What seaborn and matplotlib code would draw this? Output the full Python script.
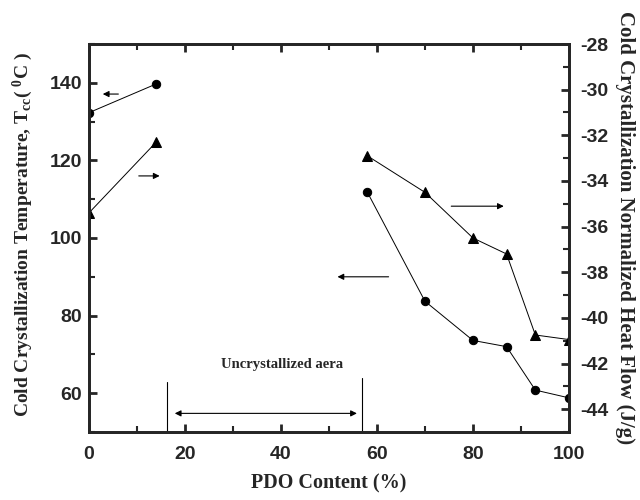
import numpy as np
import pandas as pd
import matplotlib
matplotlib.use("Agg")
import matplotlib.pyplot as plt
import seaborn as sns
from matplotlib.ticker import MultipleLocator

# Data
pdo = [0, 14, 58, 70, 80, 87, 93, 100]
segment = [0, 0, 1, 1, 1, 1, 1, 1]
tcc = [132.3, 139.7, 111.8, 83.7, 73.6, 72.0, 60.8, 58.8]
heat_flow = [-35.4, -32.3, -32.9, -34.5, -36.5, -37.2, -40.75, -40.95]
x_ticks = [0, 20, 40, 60, 80, 100]
left_ticks = [60, 80, 100, 120, 140]
right_ticks = [-44, -42, -40, -38, -36, -34, -32, -30, -28]

df = pd.DataFrame({"pdo": pdo, "seg": segment, "tcc": tcc, "hf": heat_flow})

sns.set_style("ticks")
plt.rcParams["font.family"] = ["Liberation Sans", "DejaVu Sans"]
plt.rcParams["mathtext.fontset"] = "custom"
plt.rcParams["mathtext.rm"] = "Liberation Serif:bold"
plt.rcParams["mathtext.bf"] = "Liberation Serif:bold"
plt.rcParams["mathtext.it"] = "Liberation Serif:bold"

fig = plt.figure(figsize=(6.4, 5.0), dpi=100)
ax = fig.add_axes([0.139, 0.136, 0.75, 0.776])
ax2 = ax.twinx()

sns.lineplot(data=df, x="pdo", y="tcc", units="seg", estimator=None, ax=ax,
             color="black", lw=0.7, marker="o", markersize=6, markeredgecolor="black")
sns.lineplot(data=df, x="pdo", y="hf", units="seg", estimator=None, ax=ax2,
             color="black", lw=0.7, marker="^", markersize=7.5, markeredgecolor="black")

ax.set_xlim(0, 100)
ax.set_ylim(50, 150)
ax2.set_ylim(-45, -28)

ax.xaxis.set_minor_locator(MultipleLocator(10))
ax.yaxis.set_minor_locator(MultipleLocator(10))
ax2.yaxis.set_minor_locator(MultipleLocator(1))

for a in (ax, ax2):
    for s in a.spines.values():
        s.set_linewidth(2)
        s.set_visible(True)
    a.tick_params(which="major", direction="in", length=6, width=2)
    a.tick_params(which="minor", direction="in", length=4, width=1.5)
ax.tick_params(which="both", top=True, right=False)
ax.tick_params(axis="x", which="major", pad=10)
ax.tick_params(axis="y", which="major", pad=5)
ax2.tick_params(which="both", right=True, left=False)
ax2.tick_params(axis="y", which="major", pad=8)

ax.set_xticks(x_ticks)
ax.set_xticklabels([str(v) for v in x_ticks], fontweight="bold", fontsize=14)
ax.set_yticks(left_ticks)
ax.set_yticklabels([str(v) for v in left_ticks], fontweight="bold", fontsize=14)
ax2.set_yticks(right_ticks)
ax2.set_yticklabels([str(v) for v in right_ticks], fontweight="bold", fontsize=14)

serif = ["Liberation Serif", "DejaVu Serif"]
ax.set_xlabel("PDO Content (%)", family=serif, fontweight="bold", fontsize=14.5)
ax.xaxis.set_label_coords(0.5, -0.108)
ax.set_ylabel("Cold Crystallization Temperature, T$_{\\mathbf{cc}}$( $^{\\mathbf{0}}$C )",
              family=serif, fontweight="bold", fontsize=14, va="center")
ax.yaxis.set_label_coords(-0.137, 0.51)
ax2.set_ylabel("Cold Crystallization Normalized Heat Flow (J/g)", family=serif,
               fontweight="bold", fontsize=15, rotation=270, va="center")
ax2.yaxis.set_label_coords(1.117, 0.526)

# Arrows
arrow_kw = dict(arrowstyle="-|>", color="black", lw=0.8, mutation_scale=9)
ax.annotate("", xy=(2.3, 137.1), xytext=(6.7, 137.1), arrowprops=arrow_kw)
ax.annotate("", xy=(15.3, 116), xytext=(9.8, 116), arrowprops=arrow_kw)
ax.annotate("", xy=(87, 108.2), xytext=(74.9, 108.2), arrowprops=arrow_kw)
ax.annotate("", xy=(51.2, 90), xytext=(63, 90), arrowprops=arrow_kw)

# Uncrystallized area
ax.plot([16.3, 16.3], [50, 63], color="black", lw=0.8)
ax.plot([56.9, 56.9], [50, 64], color="black", lw=0.8)
ax.annotate("", xy=(17.3, 54.8), xytext=(56.4, 54.8),
            arrowprops=dict(arrowstyle="<|-|>", color="black", lw=0.8, mutation_scale=9))
ax.text(40.2, 67.3, "Uncrystallized aera", family=serif, fontweight="bold",
        fontsize=10.5, ha="center", va="center")

fig.savefig("out.png", dpi=100)
